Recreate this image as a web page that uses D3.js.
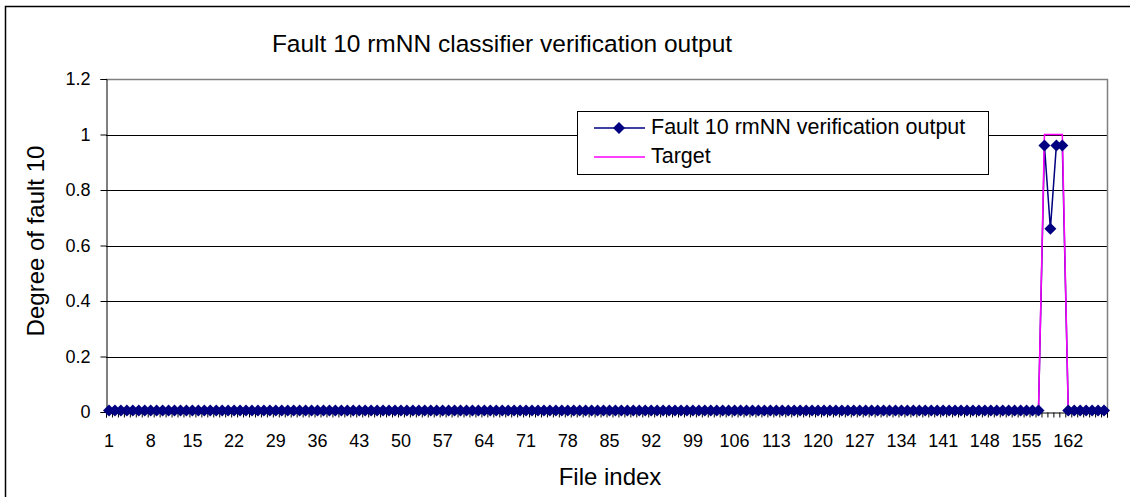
<!DOCTYPE html>
<html>
<head>
<meta charset="utf-8">
<script src="https://cdn.jsdelivr.net/npm/d3@7/dist/d3.min.js"></script>
<style>
  body { margin: 0; background: #fff; }
  svg { font-family: "Liberation Sans", Arial, sans-serif; }
</style>
</head>
<body>
<div id="chart"></div>
<script>
// file indices 1..168
var fileIndex = [
  1, 2, 3, 4, 5, 6, 7, 8, 9, 10, 11, 12, 13, 14, 15, 16, 17, 18, 19, 20,
  21, 22, 23, 24, 25, 26, 27, 28, 29, 30, 31, 32, 33, 34, 35, 36, 37, 38, 39, 40,
  41, 42, 43, 44, 45, 46, 47, 48, 49, 50, 51, 52, 53, 54, 55, 56, 57, 58, 59, 60,
  61, 62, 63, 64, 65, 66, 67, 68, 69, 70, 71, 72, 73, 74, 75, 76, 77, 78, 79, 80,
  81, 82, 83, 84, 85, 86, 87, 88, 89, 90, 91, 92, 93, 94, 95, 96, 97, 98, 99, 100,
  101, 102, 103, 104, 105, 106, 107, 108, 109, 110, 111, 112, 113, 114, 115, 116, 117, 118, 119, 120,
  121, 122, 123, 124, 125, 126, 127, 128, 129, 130, 131, 132, 133, 134, 135, 136, 137, 138, 139, 140,
  141, 142, 143, 144, 145, 146, 147, 148, 149, 150, 151, 152, 153, 154, 155, 156, 157, 158, 159, 160,
  161, 162, 163, 164, 165, 166, 167, 168
];

var verificationOutput = [
  0.005, 0.005, 0.005, 0.005, 0.005, 0.005, 0.005, 0.005, 0.005, 0.005, 0.005, 0.005, 0.005, 0.005, 0.005, 0.005, 0.005, 0.005, 0.005, 0.005,
  0.005, 0.005, 0.005, 0.005, 0.005, 0.005, 0.005, 0.005, 0.005, 0.005, 0.005, 0.005, 0.005, 0.005, 0.005, 0.005, 0.005, 0.005, 0.005, 0.005,
  0.005, 0.005, 0.005, 0.005, 0.005, 0.005, 0.005, 0.005, 0.005, 0.005, 0.005, 0.005, 0.005, 0.005, 0.005, 0.005, 0.005, 0.005, 0.005, 0.005,
  0.005, 0.005, 0.005, 0.005, 0.005, 0.005, 0.005, 0.005, 0.005, 0.005, 0.005, 0.005, 0.005, 0.005, 0.005, 0.005, 0.005, 0.005, 0.005, 0.005,
  0.005, 0.005, 0.005, 0.005, 0.005, 0.005, 0.005, 0.005, 0.005, 0.005, 0.005, 0.005, 0.005, 0.005, 0.005, 0.005, 0.005, 0.005, 0.005, 0.005,
  0.005, 0.005, 0.005, 0.005, 0.005, 0.005, 0.005, 0.005, 0.005, 0.005, 0.005, 0.005, 0.005, 0.005, 0.005, 0.005, 0.005, 0.005, 0.005, 0.005,
  0.005, 0.005, 0.005, 0.005, 0.005, 0.005, 0.005, 0.005, 0.005, 0.005, 0.005, 0.005, 0.005, 0.005, 0.005, 0.005, 0.005, 0.005, 0.005, 0.005,
  0.005, 0.005, 0.005, 0.005, 0.005, 0.005, 0.005, 0.005, 0.005, 0.005, 0.005, 0.005, 0.005, 0.005, 0.005, 0.005, 0.005, 0.96, 0.66, 0.96,
  0.96, 0.005, 0.005, 0.005, 0.005, 0.005, 0.005, 0.005
];

var target = [
  0, 0, 0, 0, 0, 0, 0, 0, 0, 0, 0, 0, 0, 0, 0, 0, 0, 0, 0, 0,
  0, 0, 0, 0, 0, 0, 0, 0, 0, 0, 0, 0, 0, 0, 0, 0, 0, 0, 0, 0,
  0, 0, 0, 0, 0, 0, 0, 0, 0, 0, 0, 0, 0, 0, 0, 0, 0, 0, 0, 0,
  0, 0, 0, 0, 0, 0, 0, 0, 0, 0, 0, 0, 0, 0, 0, 0, 0, 0, 0, 0,
  0, 0, 0, 0, 0, 0, 0, 0, 0, 0, 0, 0, 0, 0, 0, 0, 0, 0, 0, 0,
  0, 0, 0, 0, 0, 0, 0, 0, 0, 0, 0, 0, 0, 0, 0, 0, 0, 0, 0, 0,
  0, 0, 0, 0, 0, 0, 0, 0, 0, 0, 0, 0, 0, 0, 0, 0, 0, 0, 0, 0,
  0, 0, 0, 0, 0, 0, 0, 0, 0, 0, 0, 0, 0, 0, 0, 0, 0, 1, 1, 1,
  1, 0, 0, 0, 0, 0, 0, 0
];

var xLabels = [1, 8, 15, 22, 29, 36, 43, 50, 57, 64, 71, 78, 85, 92, 99, 106, 113, 120, 127, 134, 141, 148, 155, 162];
var yTicks = [0, 0.2, 0.4, 0.6, 0.8, 1, 1.2];

var W = 1130, H = 497;
var plot = { left: 106, right: 1107, top: 79, bottom: 412 };
var output_color = "#000080";
var target_color = "#FF00FF";
var marker_r = 6;

var svg = d3.select("#chart").append("svg")
  .attr("width", W)
  .attr("height", H);

// outer chart border
svg.append("rect")
  .attr("x", 5.5).attr("y", 6.5)
  .attr("width", W + 20).attr("height", H + 20)
  .attr("fill", "#fff")
  .attr("stroke", "#000")
  .attr("stroke-width", 1.5);

var x = d3.scaleBand().domain(fileIndex).range([plot.left, plot.right]).padding(0);
var xEdge = d3.scaleLinear().domain([0, fileIndex.length]).range([plot.left, plot.right]);
var y = d3.scaleLinear().domain([0, 1.2]).range([plot.bottom, plot.top]);
var cx = (d) => x(d) + x.bandwidth() / 2;

// gridlines
svg.append("g")
  .selectAll("line")
  .data(yTicks.filter((d) => d > 0 && d < 1.2))
  .enter().append("line")
  .attr("x1", plot.left).attr("x2", plot.right)
  .attr("y1", (d) => Math.round(y(d)) + 0.5)
  .attr("y2", (d) => Math.round(y(d)) + 0.5)
  .attr("stroke", "#000")
  .attr("stroke-width", 1);

// plot area top/right border (gray)
svg.append("path")
  .attr("d", `M${plot.left},${plot.top + 0.5}H${plot.right + 0.5}V${plot.bottom}`)
  .attr("fill", "none")
  .attr("stroke", "#808080")
  .attr("stroke-width", 1.5);

// y axis
var yAxis = svg.append("g")
  .attr("transform", `translate(${plot.left + 0.5},0)`)
  .call(d3.axisLeft(y).tickValues(yTicks).tickSize(6).tickFormat((d) => d3.format("")(+d.toFixed(1))));
yAxis.select(".domain").attr("stroke", "#000");
yAxis.selectAll(".tick text")
  .attr("x", -16)
  .attr("font-size", 18)
  .attr("font-family", "Liberation Sans, Arial, sans-serif")
  .attr("fill", "#000");

// x axis: tick marks at category boundaries
var xAxis = svg.append("g")
  .attr("transform", `translate(0,${plot.bottom + 0.5})`)
  .call(d3.axisBottom(xEdge).tickValues(d3.range(0, fileIndex.length + 1)).tickSize(5).tickFormat(""));
xAxis.select(".domain").attr("stroke", "#000");
xAxis.selectAll(".tick line").attr("stroke", "#000");

// x labels every 7 files
var xLab = svg.append("g")
  .attr("transform", `translate(0,${plot.bottom + 0.5})`)
  .call(d3.axisBottom(x).tickValues(xLabels).tickSize(0).tickPadding(22));
xLab.select(".domain").remove();
xLab.selectAll(".tick text")
  .attr("font-size", 18)
  .attr("font-family", "Liberation Sans, Arial, sans-serif")
  .attr("fill", "#000");

// series lines
var line = (vals) => d3.line().x((d, i) => cx(fileIndex[i])).y((d) => y(d))(vals);

svg.append("path")
  .attr("d", line(verificationOutput))
  .attr("fill", "none")
  .attr("stroke", output_color)
  .attr("stroke-width", 1.5);

svg.append("path")
  .attr("d", line(target))
  .attr("fill", "none")
  .attr("stroke", target_color)
  .attr("stroke-width", 1.5);

// diamond markers
var diamond = (px, py, r) => `M${px},${py - r}L${px + r},${py}L${px},${py + r}L${px - r},${py}Z`;
svg.append("g")
  .selectAll("path")
  .data(verificationOutput)
  .enter().append("path")
  .attr("d", (d, i) => diamond(cx(fileIndex[i]), y(d), marker_r))
  .attr("fill", output_color);

// title
svg.append("text")
  .attr("x", 502).attr("y", 52)
  .attr("text-anchor", "middle")
  .attr("font-size", 24.5)
  .text("Fault 10 rmNN classifier verification output");

// axis titles
svg.append("text")
  .attr("x", 610).attr("y", 485)
  .attr("text-anchor", "middle")
  .attr("font-size", 24)
  .text("File index");

svg.append("text")
  .attr("transform", `translate(44,241) rotate(-90)`)
  .attr("text-anchor", "middle")
  .attr("font-size", 24)
  .text("Degree of fault 10");

// legend
var leg = svg.append("g");
leg.append("rect")
  .attr("x", 577.5).attr("y", 111.5)
  .attr("width", 411).attr("height", 63)
  .attr("fill", "#fff")
  .attr("stroke", "#000")
  .attr("stroke-width", 1);
leg.append("line")
  .attr("x1", 594).attr("x2", 645).attr("y1", 128).attr("y2", 128)
  .attr("stroke", output_color).attr("stroke-width", 1.5);
leg.append("path")
  .attr("d", diamond(619, 128, marker_r))
  .attr("fill", output_color);
leg.append("line")
  .attr("x1", 594).attr("x2", 645).attr("y1", 157).attr("y2", 157)
  .attr("stroke", target_color).attr("stroke-width", 1.5);
leg.append("text")
  .attr("x", 651).attr("y", 134)
  .attr("font-size", 21.5)
  .text("Fault 10 rmNN verification output");
leg.append("text")
  .attr("x", 651).attr("y", 163)
  .attr("font-size", 21.5)
  .text("Target");
</script>
</body>
</html>
